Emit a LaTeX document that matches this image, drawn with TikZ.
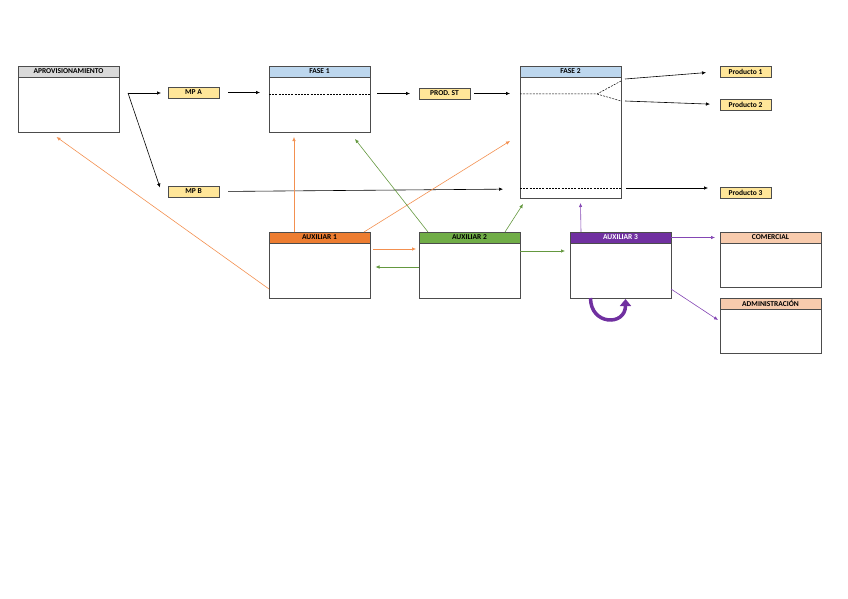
\documentclass[tikz,border=0pt]{standalone}
\usepackage{fontspec}
\setmainfont{Carlito}
\usetikzlibrary{arrows.meta,positioning}

\definecolor{headgray}{HTML}{D9D9D9}
\definecolor{headblue}{HTML}{BDD7EE}
\definecolor{tagyellow}{HTML}{FFE699}
\definecolor{auxorange}{HTML}{ED7D31}
\definecolor{auxgreen}{HTML}{70AD47}
\definecolor{auxpurple}{HTML}{7030A0}
\definecolor{headsalmon}{HTML}{F8CBAD}
\definecolor{lineorange}{HTML}{F39050}
\definecolor{linegreen}{HTML}{64983F}
\definecolor{linepurple}{HTML}{8446B4}

\begin{document}
\begin{tikzpicture}[
  x=1pt, y=-1pt,
  node distance=0pt,
  head/.style={draw=black!70, line width=0.9pt, minimum width=101pt, minimum height=11pt,
               inner sep=0pt, outer sep=0pt, anchor=north west,
               font=\fontsize{7.5}{8}\selectfont\bfseries},
  body/.style={draw=black!70, line width=0.9pt, minimum width=101pt,
               inner sep=0pt, outer sep=0pt},
  tag/.style={draw=black!70, line width=0.9pt, fill=tagyellow, minimum width=51pt,
              minimum height=11pt, inner sep=0pt, outer sep=0pt, anchor=north west,
              font=\fontsize{7.5}{8}\selectfont\bfseries},
  arrow/.style={-{Latex[length=4pt,width=3.5pt]}, line width=0.6pt},
  cut/.style={dash pattern=on 2pt off 1.2pt, line width=0.5pt}
]
\useasboundingbox (0,0) rectangle (848,599);

% departments with header bar
\node[head, fill=headgray] (aprovh) at (18,66) {APROVISIONAMIENTO};
\node[body, minimum height=55pt, below=of aprovh] (aprov) {};
\node[head, fill=headblue] (fase1h) at (269,66) {FASE 1};
\node[body, minimum height=55pt, below=of fase1h] (fase1) {};
\node[head, fill=headblue] (fase2h) at (520,66) {FASE 2};
\node[body, minimum height=121pt, below=of fase2h] (fase2) {};
\node[head, fill=auxorange] (aux1h) at (269,232) {AUXILIAR 1};
\node[body, minimum height=55pt, below=of aux1h] (aux1) {};
\node[head, fill=auxgreen] (aux2h) at (419,232) {AUXILIAR 2};
\node[body, minimum height=55pt, below=of aux2h] (aux2) {};
\node[head, fill=auxpurple, text=white] (aux3h) at (570,232) {AUXILIAR 3};
\node[body, minimum height=55pt, below=of aux3h] (aux3) {};
\node[head, fill=headsalmon] (comh) at (720,232) {COMERCIAL};
\node[body, minimum height=44pt, below=of comh] (com) {};
\node[head, fill=headsalmon] (admh) at (720,298) {ADMINISTRACIÓN};
\node[body, minimum height=44pt, below=of admh] (adm) {};

% materials and products
\node[tag] (mpa) at (168,87) {MP A};
\node[tag] (mpb) at (168,186) {MP B};
\node[tag] (prodst) at (419,88) {PROD. ST};
\node[tag] (prod1) at (720,66) {Producto 1};
\node[tag] (prod2) at (720,99) {Producto 2};
\node[tag] (prod3) at (720,187) {Producto 3};

% dashed cuts inside the phases
\coordinate (fork) at ([xshift=-24pt,yshift=-17pt]fase2.north east);
\coordinate (f2c) at ([xshift=5pt,yshift=10pt]fase2.south east);
\draw[cut] ([yshift=-17pt]fase1.north west) -- ([yshift=-17pt]fase1.north east);
\draw[cut] ([yshift=-17pt]fase2.north west) -- (fork) -- ([yshift=-4pt]fase2.north east);
\draw[cut] (fork) -- ([yshift=-24pt]fase2.north east);
\draw[cut] ([yshift=10pt]fase2.south west) -- ([yshift=10pt]fase2.south east);

% main flow
\coordinate (split) at ([xshift=9pt,yshift=-16pt]aprov.north east);
\draw[arrow, shorten >=7pt] (split) -- (mpa.west |- split);
\draw[arrow] (split) -- ([xshift=-8pt,yshift=4pt]mpb.west);
\draw[arrow, shorten <=9pt, shorten >=9pt] (mpa.east) -- (mpa.east -| fase1.west);
\draw[arrow, shorten <=7pt, shorten >=9pt] (prodst.west -| fase1.east) -- (prodst.west);
\draw[arrow, shorten <=4pt, shorten >=10pt] (prodst.east) -- (prodst.east -| fase2.west);
\draw[arrow, shorten >=14pt] ([xshift=4pt,yshift=-2pt]fase2.north east) -- (prod1.west);
\draw[arrow, shorten >=10pt] ([xshift=4pt,yshift=-24pt]fase2.north east) -- (prod2.west);
\draw[arrow, shorten >=12pt] (f2c) -- (f2c -| prod3.west);
\draw[arrow, shorten <=9pt, shorten >=17pt] (mpb.east) -- ([yshift=9pt]fase2.south west);

% auxiliar 1
\draw[arrow, lineorange] ([yshift=9pt]aux1.south west) -- ([xshift=-12pt,yshift=-5pt]aprov.south);
\draw[arrow, lineorange] ([xshift=25pt]aux1h.north west) -- ([xshift=25pt,yshift=-5pt]fase1.south west);
\draw[arrow, lineorange] ([xshift=-6pt]aux1h.north east) -- ([xshift=-10pt,yshift=-3.5pt]fase2.west);
\draw[arrow, lineorange] ([xshift=3pt,yshift=-6pt]aux1.north east) -- ([xshift=-3pt,yshift=-6pt]aux2.north west);

% auxiliar 2
\draw[arrow, linegreen] ([xshift=9pt]aux2h.north west) -- ([xshift=-15pt,yshift=-7pt]fase1.south east);
\draw[arrow, linegreen] ([xshift=-15pt]aux2h.north east) -- ([xshift=3pt,yshift=-6pt]fase2.south west);
\draw[arrow, linegreen] ([yshift=-24pt]aux2.north west) -- ([xshift=5.5pt,yshift=-24pt]aux1.north east);
\draw[arrow, linegreen] ([yshift=-8pt]aux2.north east) -- ([xshift=-5pt,yshift=-8pt]aux3.north west);

% auxiliar 3
\draw[arrow, linepurple] ([xshift=11pt]aux3h.north west) -- ([xshift=10pt,yshift=-5pt]fase2.south);
\draw[arrow, linepurple, shorten >=5pt] (aux3h.east) -- (comh.west);
\draw[arrow, linepurple] ([yshift=9pt]aux3.south east) -- ([xshift=-2pt,yshift=-11pt]admh.south west);
\draw[auxpurple, line width=3.5pt, -{Triangle[length=7pt,width=11pt]}]
  ([xshift=-30pt]aux3.south) to[out=-90, in=-90, looseness=2] ([xshift=5pt,yshift=-1pt]aux3.south);
\end{tikzpicture}
\end{document}
